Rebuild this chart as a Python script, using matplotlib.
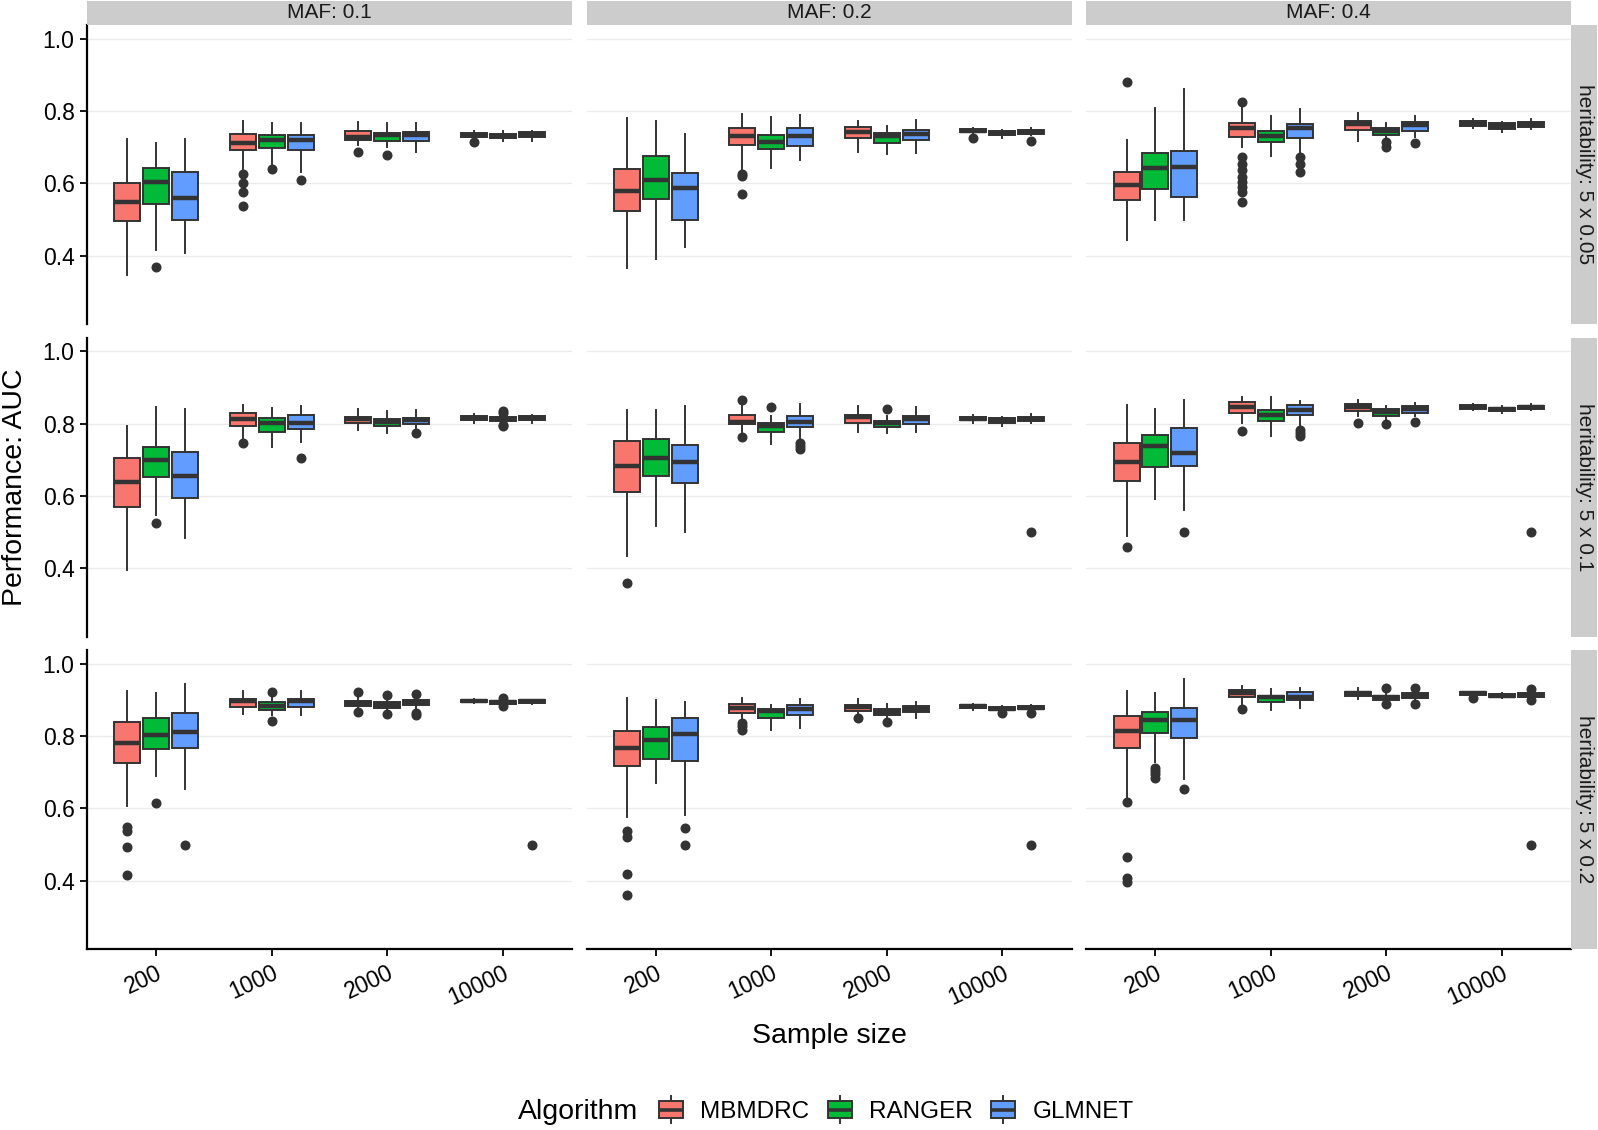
import matplotlib
matplotlib.use("Agg")
import matplotlib.pyplot as plt
from matplotlib.legend_handler import HandlerBase
from matplotlib.patches import Rectangle
from matplotlib.lines import Line2D

plt.rcParams['font.family'] = ['Liberation Sans', 'DejaVu Sans']

# ---------------- data ----------------
size_labels = ['200', '1000', '2000', '10000']
maf_labels = ['MAF: 0.1', 'MAF: 0.2', 'MAF: 0.4']
herit_labels = ['heritability: 5 x 0.05', 'heritability: 5 x 0.1', 'heritability: 5 x 0.2']
algorithms = ['MBMDRC', 'RANGER', 'GLMNET']
colors = ['#F8766D', '#00BA38', '#619CFF']

# each panel: 12 values = for sizes 200,1000,2000,10000 x (MBMDRC, RANGER, GLMNET)
whishi = [
    [[0.724, 0.712, 0.724, 0.772, 0.766, 0.767, 0.770, 0.766, 0.767, 0.745, 0.744, 0.745],
     [0.782, 0.773, 0.736, 0.793, 0.784, 0.788, 0.773, 0.759, 0.775, 0.754, 0.747, 0.754],
     [0.721, 0.809, 0.862, 0.810, 0.787, 0.805, 0.795, 0.767, 0.787, 0.779, 0.769, 0.778]],
    [[0.794, 0.846, 0.840, 0.852, 0.843, 0.849, 0.840, 0.835, 0.837, 0.826, 0.822, 0.825],
     [0.838, 0.838, 0.848, 0.848, 0.822, 0.855, 0.848, 0.822, 0.845, 0.825, 0.818, 0.826],
     [0.852, 0.840, 0.864, 0.874, 0.874, 0.863, 0.864, 0.850, 0.858, 0.855, 0.848, 0.854]],
    [[0.924, 0.918, 0.945, 0.924, 0.910, 0.924, 0.910, 0.904, 0.906, 0.903, 0.901, 0.900],
     [0.904, 0.899, 0.894, 0.904, 0.885, 0.902, 0.903, 0.890, 0.895, 0.888, 0.883, 0.885],
     [0.926, 0.918, 0.959, 0.938, 0.929, 0.933, 0.934, 0.920, 0.922, 0.923, 0.920, 0.924]],
]
q3 = [
    [[0.600, 0.643, 0.633, 0.737, 0.733, 0.735, 0.744, 0.740, 0.743, 0.740, 0.737, 0.742],
     [0.641, 0.677, 0.630, 0.753, 0.733, 0.752, 0.755, 0.739, 0.748, 0.750, 0.744, 0.749],
     [0.631, 0.684, 0.689, 0.766, 0.746, 0.763, 0.773, 0.754, 0.769, 0.772, 0.766, 0.771]],
    [[0.706, 0.736, 0.721, 0.828, 0.816, 0.824, 0.819, 0.813, 0.816, 0.821, 0.818, 0.820],
     [0.751, 0.757, 0.742, 0.823, 0.803, 0.820, 0.823, 0.808, 0.820, 0.819, 0.815, 0.818],
     [0.746, 0.769, 0.788, 0.860, 0.838, 0.852, 0.854, 0.840, 0.848, 0.851, 0.844, 0.850]],
    [[0.839, 0.850, 0.865, 0.902, 0.893, 0.902, 0.898, 0.894, 0.899, 0.901, 0.898, 0.899],
     [0.814, 0.824, 0.851, 0.888, 0.875, 0.886, 0.887, 0.875, 0.884, 0.886, 0.880, 0.883],
     [0.855, 0.868, 0.877, 0.927, 0.912, 0.922, 0.923, 0.911, 0.919, 0.922, 0.916, 0.920]],
]
med = [
    [[0.549, 0.603, 0.561, 0.713, 0.719, 0.721, 0.729, 0.733, 0.735, 0.734, 0.730, 0.735],
     [0.578, 0.609, 0.587, 0.730, 0.714, 0.730, 0.742, 0.730, 0.737, 0.745, 0.739, 0.743],
     [0.596, 0.643, 0.645, 0.752, 0.732, 0.752, 0.763, 0.744, 0.761, 0.767, 0.759, 0.764]],
    [[0.639, 0.700, 0.656, 0.813, 0.802, 0.803, 0.813, 0.805, 0.809, 0.816, 0.814, 0.815],
     [0.682, 0.705, 0.693, 0.805, 0.792, 0.804, 0.817, 0.803, 0.814, 0.814, 0.810, 0.813],
     [0.693, 0.737, 0.718, 0.846, 0.825, 0.838, 0.846, 0.832, 0.840, 0.847, 0.841, 0.846]],
    [[0.782, 0.803, 0.810, 0.898, 0.883, 0.896, 0.892, 0.886, 0.893, 0.898, 0.895, 0.896],
     [0.767, 0.789, 0.807, 0.877, 0.869, 0.874, 0.880, 0.868, 0.875, 0.882, 0.876, 0.878],
     [0.813, 0.845, 0.844, 0.918, 0.907, 0.907, 0.919, 0.907, 0.912, 0.918, 0.912, 0.914]],
]
q1 = [
    [[0.495, 0.542, 0.500, 0.693, 0.698, 0.692, 0.721, 0.716, 0.716, 0.729, 0.725, 0.729],
     [0.524, 0.558, 0.499, 0.705, 0.694, 0.704, 0.726, 0.712, 0.721, 0.741, 0.734, 0.738],
     [0.553, 0.586, 0.562, 0.728, 0.715, 0.727, 0.748, 0.734, 0.745, 0.760, 0.751, 0.756]],
    [[0.570, 0.652, 0.593, 0.794, 0.776, 0.784, 0.802, 0.794, 0.799, 0.811, 0.808, 0.811],
     [0.611, 0.656, 0.635, 0.798, 0.778, 0.790, 0.801, 0.790, 0.799, 0.809, 0.803, 0.807],
     [0.640, 0.680, 0.683, 0.828, 0.806, 0.824, 0.836, 0.822, 0.830, 0.841, 0.836, 0.841]],
    [[0.725, 0.765, 0.766, 0.881, 0.873, 0.881, 0.884, 0.878, 0.885, 0.894, 0.890, 0.891],
     [0.716, 0.736, 0.731, 0.865, 0.849, 0.859, 0.869, 0.859, 0.866, 0.877, 0.872, 0.874],
     [0.766, 0.809, 0.796, 0.907, 0.893, 0.901, 0.911, 0.900, 0.906, 0.913, 0.908, 0.909]],
]
whislo = [
    [[0.346, 0.415, 0.408, 0.641, 0.655, 0.632, 0.706, 0.701, 0.687, 0.725, 0.718, 0.718],
     [0.367, 0.392, 0.424, 0.641, 0.644, 0.666, 0.687, 0.682, 0.684, 0.738, 0.725, 0.735],
     [0.444, 0.500, 0.500, 0.701, 0.675, 0.682, 0.717, 0.722, 0.728, 0.754, 0.743, 0.751]],
    [[0.394, 0.548, 0.483, 0.760, 0.735, 0.749, 0.781, 0.774, 0.787, 0.802, 0.803, 0.801],
     [0.434, 0.517, 0.501, 0.778, 0.744, 0.755, 0.778, 0.774, 0.777, 0.802, 0.794, 0.802],
     [0.490, 0.592, 0.560, 0.801, 0.766, 0.792, 0.820, 0.810, 0.820, 0.837, 0.829, 0.837]],
    [[0.606, 0.689, 0.654, 0.860, 0.857, 0.858, 0.875, 0.869, 0.874, 0.891, 0.887, 0.889],
     [0.576, 0.670, 0.582, 0.846, 0.818, 0.823, 0.860, 0.850, 0.850, 0.873, 0.868, 0.870],
     [0.629, 0.729, 0.682, 0.887, 0.872, 0.877, 0.903, 0.895, 0.898, 0.910, 0.905, 0.904]],
]
fliers = [
    [[[], [0.368], [], [0.626, 0.601, 0.576, 0.538], [0.640], [0.609],
      [0.687], [0.680], [], [0.715], [], []],
     [[], [], [], [0.627, 0.621, 0.571], [], [],
      [], [], [], [0.726], [], [0.718]],
     [[0.881], [], [], [0.825, 0.673, 0.655, 0.636, 0.618, 0.604, 0.590, 0.576, 0.550], [], [0.673, 0.655, 0.632],
      [], [0.715, 0.701], [0.712], [], [], []]],
    [[[], [0.525], [], [0.745], [], [0.706],
      [], [], [0.774], [], [0.834, 0.828, 0.797, 0.792], []],
     [[0.359], [], [], [0.864, 0.762], [0.845], [0.746, 0.739, 0.731],
      [], [0.841], [], [], [], [0.500]],
     [[0.460], [], [0.500], [0.780], [], [0.783, 0.774, 0.767],
      [0.803], [0.798], [0.804], [], [], [0.500]]],
    [[[0.549, 0.539, 0.493, 0.416], [0.616], [0.499], [], [0.922, 0.843], [],
      [0.922, 0.866], [0.913, 0.860], [0.917, 0.864, 0.857], [], [0.906, 0.883], [0.499]],
     [[0.537, 0.521, 0.420, 0.361], [], [0.545, 0.499], [0.835, 0.827, 0.818], [], [],
      [0.849], [0.839], [], [], [0.864], [0.864, 0.499]],
     [[0.618, 0.466, 0.407, 0.398], [0.712, 0.703, 0.694, 0.684], [0.654], [0.875], [], [],
      [], [0.933, 0.888], [0.933, 0.888], [0.906], [], [0.929, 0.899, 0.499]]],
]
y_ticks = [0.4, 0.6, 0.8, 1.0]

# ---------------- layout ----------------
W, H = 1598, 1130
fig = plt.figure(figsize=(W / 100, H / 100), dpi=100)

col_x = [87.0, 586.5, 1086.2]
col_w = 485.0
row_y = [25.0, 337.5, 650.0]
row_h = 299.0
strip_top = 1.0
rstrip_x0, rstrip_x1 = 1571.3, 1597.0
STRIP = '#CCCCCC'
DARK = '#333333'
offsets = [-0.25, 0.0, 0.25]


def fx(px):
    return px / W


def fy(py):
    return 1 - py / H


for h in range(3):
    for m in range(3):
        ax = fig.add_axes([fx(col_x[m]), fy(row_y[h] + row_h), col_w / W, row_h / H])
        stats, positions = [], []
        for s in range(4):
            for a in range(3):
                k = s * 3 + a
                stats.append(dict(med=med[h][m][k], q1=q1[h][m][k], q3=q3[h][m][k],
                                  whislo=whislo[h][m][k], whishi=whishi[h][m][k],
                                  fliers=fliers[h][m][k]))
                positions.append(s + 1 + offsets[a])
        bp = ax.bxp(stats, positions=positions, widths=0.225, patch_artist=True,
                    showcaps=False,
                    boxprops=dict(edgecolor=DARK, linewidth=1.4),
                    whiskerprops=dict(color=DARK, linewidth=1.4),
                    medianprops=dict(color=DARK, linewidth=3.2, solid_capstyle='butt'),
                    flierprops=dict(marker='o', markerfacecolor=DARK, markeredgecolor=DARK,
                                    markersize=6.2, linestyle='none'))
        for i, box in enumerate(bp['boxes']):
            box.set_facecolor(colors[i % 3])
        ax.set_xlim(0.4, 4.6)
        ax.set_ylim(0.2115, 1.038)
        ax.set_yticks(y_ticks)
        ax.set_xticks([1, 2, 3, 4])
        ax.yaxis.grid(True, color='#EBEBEB', linewidth=0.9)
        ax.xaxis.grid(False)
        ax.set_axisbelow(True)
        for sp in ax.spines.values():
            sp.set_visible(False)
        ax.tick_params(axis='both', length=5, width=1.3, color='black', labelsize=16.5,
                       pad=4, labelcolor='black')
        if m == 0:
            ax.spines['left'].set_visible(True)
            ax.spines['left'].set_linewidth(1.6)
            ax.set_yticklabels(['0.4', '0.6', '0.8', '1.0'])
        else:
            ax.tick_params(axis='y', left=False, labelleft=False)
        if h == 2:
            ax.spines['bottom'].set_visible(True)
            ax.spines['bottom'].set_linewidth(1.6)
            ax.set_xticklabels(size_labels, rotation=25, ha='right', rotation_mode='anchor')
        else:
            ax.tick_params(axis='x', bottom=False, labelbottom=False)

# top strips
for m in range(3):
    sax = fig.add_axes([fx(col_x[m]), fy(row_y[0]), col_w / W, (row_y[0] - strip_top) / H])
    sax.set_facecolor(STRIP)
    sax.set_xticks([]); sax.set_yticks([])
    for sp in sax.spines.values():
        sp.set_visible(False)
    sax.text(0.5, 0.5, maf_labels[m], ha='center', va='center', fontsize=15,
             color='#1A1A1A', transform=sax.transAxes)

# right strips
for h in range(3):
    sax = fig.add_axes([fx(rstrip_x0), fy(row_y[h] + row_h), (rstrip_x1 - rstrip_x0) / W, row_h / H])
    sax.set_facecolor(STRIP)
    sax.set_xticks([]); sax.set_yticks([])
    for sp in sax.spines.values():
        sp.set_visible(False)
    sax.text(0.5, 0.5, herit_labels[h], ha='center', va='center', fontsize=15,
             rotation=-90, color='#1A1A1A', transform=sax.transAxes)

# axis titles
fig.text(fx(829), fy(1036), 'Sample size', ha='center', va='center', fontsize=20.5)
fig.text(fx(15.5), fy(487), 'Performance: AUC', ha='center', va='center',
         rotation=90, fontsize=20.5)


# legend
class BoxHandler(HandlerBase):
    def create_artists(self, legend, orig_handle, xdescent, ydescent, width, height,
                       fontsize, trans):
        fc = orig_handle.get_facecolor()
        x0, y0 = -xdescent, -ydescent
        cx = x0 + width / 2
        ext = height * 0.3
        w1 = Line2D([cx, cx], [y0 - ext, y0], color=DARK, lw=1.4, transform=trans)
        w2 = Line2D([cx, cx], [y0 + height, y0 + height + ext], color=DARK, lw=1.4, transform=trans)
        r = Rectangle((x0, y0), width, height, facecolor=fc, edgecolor=DARK, lw=1.4,
                      transform=trans)
        md = Line2D([x0, x0 + width], [y0 + height / 2] * 2, color=DARK, lw=2.6,
                    solid_capstyle='butt', transform=trans)
        return [w1, w2, r, md]


handles = [Rectangle((0, 0), 1, 1, facecolor=c) for c in colors]
fig.text(fx(518), fy(1112), 'Algorithm', ha='left', va='center', fontsize=20.5)
fig.legend(handles, algorithms, handler_map={Rectangle: BoxHandler()},
           loc='center left', bbox_to_anchor=(fx(659), fy(1112)),
           bbox_transform=fig.transFigure, frameon=False, borderpad=0, borderaxespad=0,
           ncol=3, handlelength=1.0, handleheight=0.7, handletextpad=0.7,
           columnspacing=0.75, fontsize=17.5)

fig.savefig('out.png', dpi=100)
